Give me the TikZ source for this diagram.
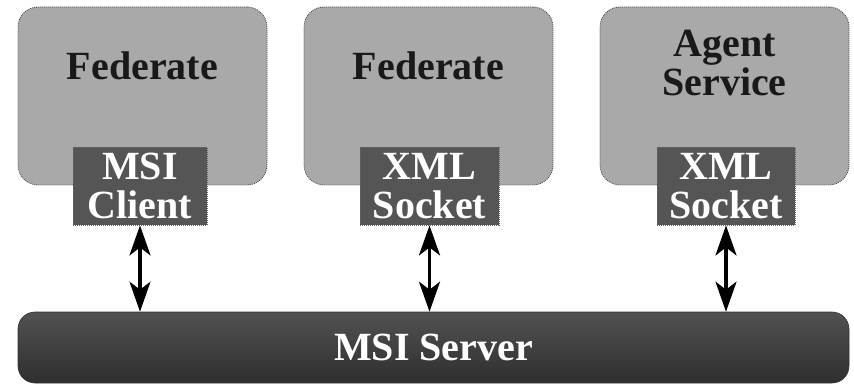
\documentclass[tikz,border=0pt]{standalone}
\usepackage{fontspec}
\setmainfont{Liberation Serif}
\usetikzlibrary{arrows.meta,positioning}
\definecolor{ngray}{HTML}{A9A9A9}
\definecolor{ndarkgray}{HTML}{555555}
\definecolor{nservertop}{HTML}{525252}
\definecolor{nserverbot}{HTML}{2E2E2E}
\newcommand{\bigbf}{\fontsize{40}{39}\selectfont\bfseries}

\begin{document}
\begin{tikzpicture}[x=1pt, y=1pt,
  fedbox/.style={draw=black!70, fill=ngray, line width=0.8pt, dash pattern=on 1pt off 1pt, rounded corners=20pt, minimum width=249pt, minimum height=178pt, inner sep=0pt},
  portbox/.style={draw=black!60, fill=ndarkgray, line width=0.8pt, dash pattern=on 1pt off 1pt, minimum height=78pt, inner sep=0pt, text=white, align=center, font=\bigbf},
  boxtext/.style={text=black!90, align=center, font=\bigbf},
  serverbar/.style={top color=nservertop, bottom color=nserverbot, draw=black!80, line width=0.6pt, rounded corners=17pt, minimum width=831pt, minimum height=71pt, inner sep=0pt, text=white, font=\bigbf},
  link/.style={{Stealth[length=30pt, width=21pt, inset=8pt]}-{Stealth[length=30pt, width=21pt, inset=8pt]}, line width=3.6pt}]
 \useasboundingbox (0,0) rectangle (854,386);
 \node[fedbox] (fedA) at (142.5,290) {};
 \node[fedbox] (fedB) at (428.5,290) {};
 \node[fedbox] (agent) at (724.5,290) {};
 \node[boxtext, anchor=base] (fedAtxt) at (142.5,306) {Federate};
 \node[boxtext, anchor=base] (fedBtxt) at (428.5,306) {Federate};
 \node[boxtext] (agenttxt) at (724.5,323) {Agent\\Service};
 \node[portbox, minimum width=134pt] (msiclient) at (140,200) {MSI\\Client};
 \node[portbox, minimum width=139pt] (xmlsockA) at (429.5,200) {XML\\Socket};
 \node[portbox, minimum width=138pt] (xmlsockB) at (726,200) {XML\\Socket};
 \node[serverbar] (server) at (433.5,38.5) {MSI Server};
 \draw[link] (msiclient.south) -- (msiclient.south |- server.north);
 \draw[link] (xmlsockA.south) -- (xmlsockA.south |- server.north);
 \draw[link] (xmlsockB.south) -- (xmlsockB.south |- server.north);
\end{tikzpicture}
\end{document}
